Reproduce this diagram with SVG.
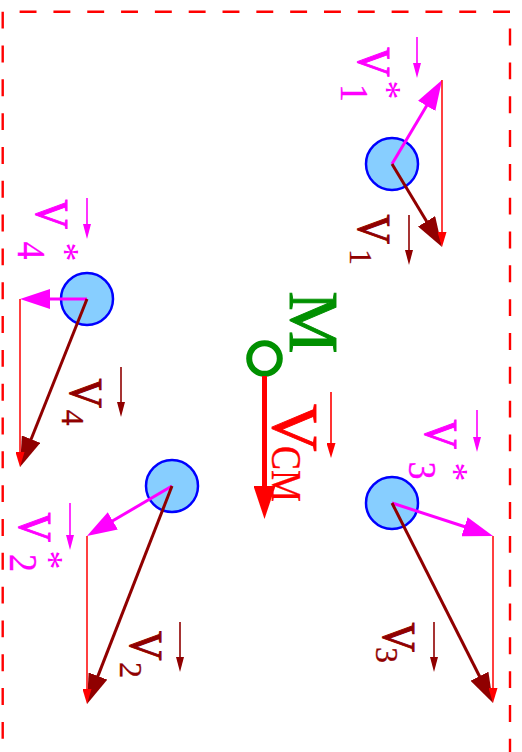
<svg xmlns="http://www.w3.org/2000/svg" width="522" height="752" viewBox="0 0 522 752">
<style>
.t{font-family:"Liberation Serif","Times New Roman",serif;stroke-width:0.9;}
.bigV{font-size:41px;}
.dig{font-size:32px;stroke-width:0.3;}
.pdig{font-size:36px;stroke-width:0.3;}
.star{font-size:38px;stroke-width:0;}
.pk{fill:#FF00FF;stroke:#FF00FF;}
.dr{fill:#900000;stroke:#900000;}
.rd{fill:#FF0000;stroke:#FF0000;}
.gr{fill:#009000;stroke:#009000;}
.ball{fill:#87CEFF;stroke:#0000FF;stroke-width:2.5;}
.border{fill:none;stroke:#FF0000;stroke-width:2.4;stroke-dasharray:16.91 16.91;}
.apk{stroke:#FF00FF;stroke-width:3;fill:none;marker-end:url(#hPk);}
.adr{stroke:#900000;stroke-width:3;fill:none;marker-end:url(#hDr);}
.ard{stroke:#FF0000;stroke-width:1.5;fill:none;marker-end:url(#sRd);}
.spk{stroke:#FF00FF;stroke-width:1.6;fill:none;marker-end:url(#sPk);}
.sdr{stroke:#900000;stroke-width:1.6;fill:none;marker-end:url(#sDr);}
.srd{stroke:#FF0000;stroke-width:1.6;fill:none;marker-end:url(#sRd);}
</style>
<defs>
<marker id="hPk" markerUnits="userSpaceOnUse" markerWidth="31" markerHeight="20" refX="2" refY="10" orient="auto"><path d="M0,0 L30,10 L0,20 z" fill="#FF00FF"/></marker>
<marker id="hDr" markerUnits="userSpaceOnUse" markerWidth="31" markerHeight="20" refX="2" refY="10" orient="auto"><path d="M0,0 L30,10 L0,20 z" fill="#900000"/></marker>
<marker id="sPk" markerUnits="userSpaceOnUse" markerWidth="16" markerHeight="8" refX="2" refY="4" orient="auto"><path d="M0,0 L15,4 L0,8 z" fill="#FF00FF"/></marker>
<marker id="sDr" markerUnits="userSpaceOnUse" markerWidth="16" markerHeight="8" refX="2" refY="4" orient="auto"><path d="M0,0 L15,4 L0,8 z" fill="#900000"/></marker>
<marker id="sRd" markerUnits="userSpaceOnUse" markerWidth="16" markerHeight="9" refX="2" refY="4.5" orient="auto"><path d="M0,0 L15,4.5 L0,9 z" fill="#FF0000"/></marker>
<marker id="hCM" markerUnits="userSpaceOnUse" markerWidth="34" markerHeight="22" refX="2" refY="11" orient="auto"><path d="M0,0 L33,11 L0,22 z" fill="#FF0000"/></marker>
</defs>

<g id="frame">
<path class="border" d="M2.7,11.7 V770"/>
<path class="border" style="stroke-dashoffset:16.91" d="M2.7,11.7 H510 V770"/>
</g>

<g id="particle1"><circle class="ball" cx="392" cy="164" r="26"/></g>
<g id="particle2"><circle class="ball" cx="172" cy="486" r="26"/></g>
<g id="particle3"><circle class="ball" cx="392" cy="503" r="26"/></g>
<g id="particle4"><circle class="ball" cx="87" cy="299" r="26"/></g>

<g id="cm">
<circle cx="264.5" cy="358.5" r="15.3" fill="none" stroke="#009000" stroke-width="6"/>
<g transform="translate(290,291.2) rotate(90)"><text class="t gr" style="font-size:70px">M</text></g>
</g>

<g id="connectors">
<line class="apk" x1="392" y1="164" x2="427.7" y2="104.1"/>
<line class="adr" x1="392" y1="164" x2="427.6" y2="223"/>
<line class="apk" x1="87" y1="299" x2="48" y2="299"/>
<line class="adr" x1="87" y1="299" x2="30.4" y2="441"/>
<line class="apk" x1="172" y1="486" x2="111.1" y2="521.8"/>
<line class="adr" x1="172" y1="486" x2="97.2" y2="677.9"/>
<line class="apk" x1="392" y1="503" x2="466.4" y2="527.3"/>
<line class="adr" x1="392" y1="503" x2="480.4" y2="678"/>
<line class="ard" x1="442" y1="80" x2="442" y2="234"/>
<line class="ard" x1="20" y1="299" x2="20" y2="454"/>
<line class="ard" x1="87" y1="536" x2="87" y2="691"/>
<line class="ard" x1="493" y1="536" x2="493" y2="690"/>
<line x1="264.5" y1="376" x2="264.5" y2="488" stroke="#FF0000" stroke-width="5" marker-end="url(#hCM)"/>
</g>

<g id="label-v1star">
<g transform="translate(358,47.3) rotate(90)"><text class="t bigV pk" transform="scale(1,1.15)">V</text></g>
<g transform="translate(341,84) rotate(90)"><text class="t pdig pk" transform="scale(1,1.12)">1</text></g>
<g transform="translate(375,80.4) rotate(90)"><text class="t star pk">*</text></g>
<line class="spk" x1="417" y1="37" x2="417" y2="65"/>
</g>
<g id="label-v1">
<g transform="translate(358,214.5) rotate(90)"><text class="t bigV dr" transform="scale(1,1.15)">V</text></g>
<g transform="translate(350,249) rotate(90)"><text class="t dig dr">1</text></g>
<line class="sdr" x1="409" y1="215" x2="409" y2="252"/>
</g>
<g id="label-v4star">
<g transform="translate(36,199.5) rotate(90)"><text class="t bigV pk" transform="scale(1,1.15)">V</text></g>
<g transform="translate(18,241.6) rotate(90)"><text class="t pdig pk" transform="scale(1,1.12)">4</text></g>
<g transform="translate(53,242.4) rotate(90)"><text class="t star pk">*</text></g>
<line class="spk" x1="87" y1="198" x2="87" y2="226"/>
</g>
<g id="label-v4">
<g transform="translate(70,378.5) rotate(90)"><text class="t bigV dr" transform="scale(1,1.15)">V</text></g>
<g transform="translate(62,409.6) rotate(90)"><text class="t dig dr">4</text></g>
<line class="sdr" x1="121" y1="367" x2="121" y2="404"/>
</g>
<g id="label-v2star">
<g transform="translate(18.5,512.5) rotate(90)"><text class="t bigV pk" transform="scale(1,1.15)">V</text></g>
<g transform="translate(9.5,554) rotate(90)"><text class="t pdig pk" transform="scale(1,1.12)">2</text></g>
<g transform="translate(37,550.5) rotate(90)"><text class="t star pk">*</text></g>
<line class="spk" x1="70" y1="503" x2="70" y2="537"/>
</g>
<g id="label-v2">
<g transform="translate(130,631) rotate(90)"><text class="t bigV dr" transform="scale(1,1.15)">V</text></g>
<g transform="translate(120,662) rotate(90)"><text class="t dig dr">2</text></g>
<line class="sdr" x1="180" y1="622" x2="180" y2="659"/>
</g>
<g id="label-v3star">
<g transform="translate(425,419.5) rotate(90)"><text class="t bigV pk" transform="scale(1,1.15)">V</text></g>
<g transform="translate(408.5,461.5) rotate(90)"><text class="t pdig pk" transform="scale(1,1.12)">3</text></g>
<g transform="translate(442,462.4) rotate(90)"><text class="t star pk">*</text></g>
<line class="spk" x1="477" y1="410" x2="477" y2="439"/>
</g>
<g id="label-v3">
<g transform="translate(383,622.5) rotate(90)"><text class="t bigV dr" transform="scale(1,1.15)">V</text></g>
<g transform="translate(375.5,647) rotate(90)"><text class="t dig dr">3</text></g>
<line class="sdr" x1="434" y1="622" x2="434" y2="659"/>
</g>
<g id="label-vcm">
<g transform="translate(273,404) rotate(90)"><text class="t rd" style="font-size:66px">V</text></g>
<g transform="translate(272,446) rotate(90)"><text class="t rd" style="font-size:36px;stroke-width:0.3" transform="scale(1,1.15)">CM</text></g>
<line class="srd" x1="331" y1="392" x2="331" y2="445"/>
</g>
</svg>
